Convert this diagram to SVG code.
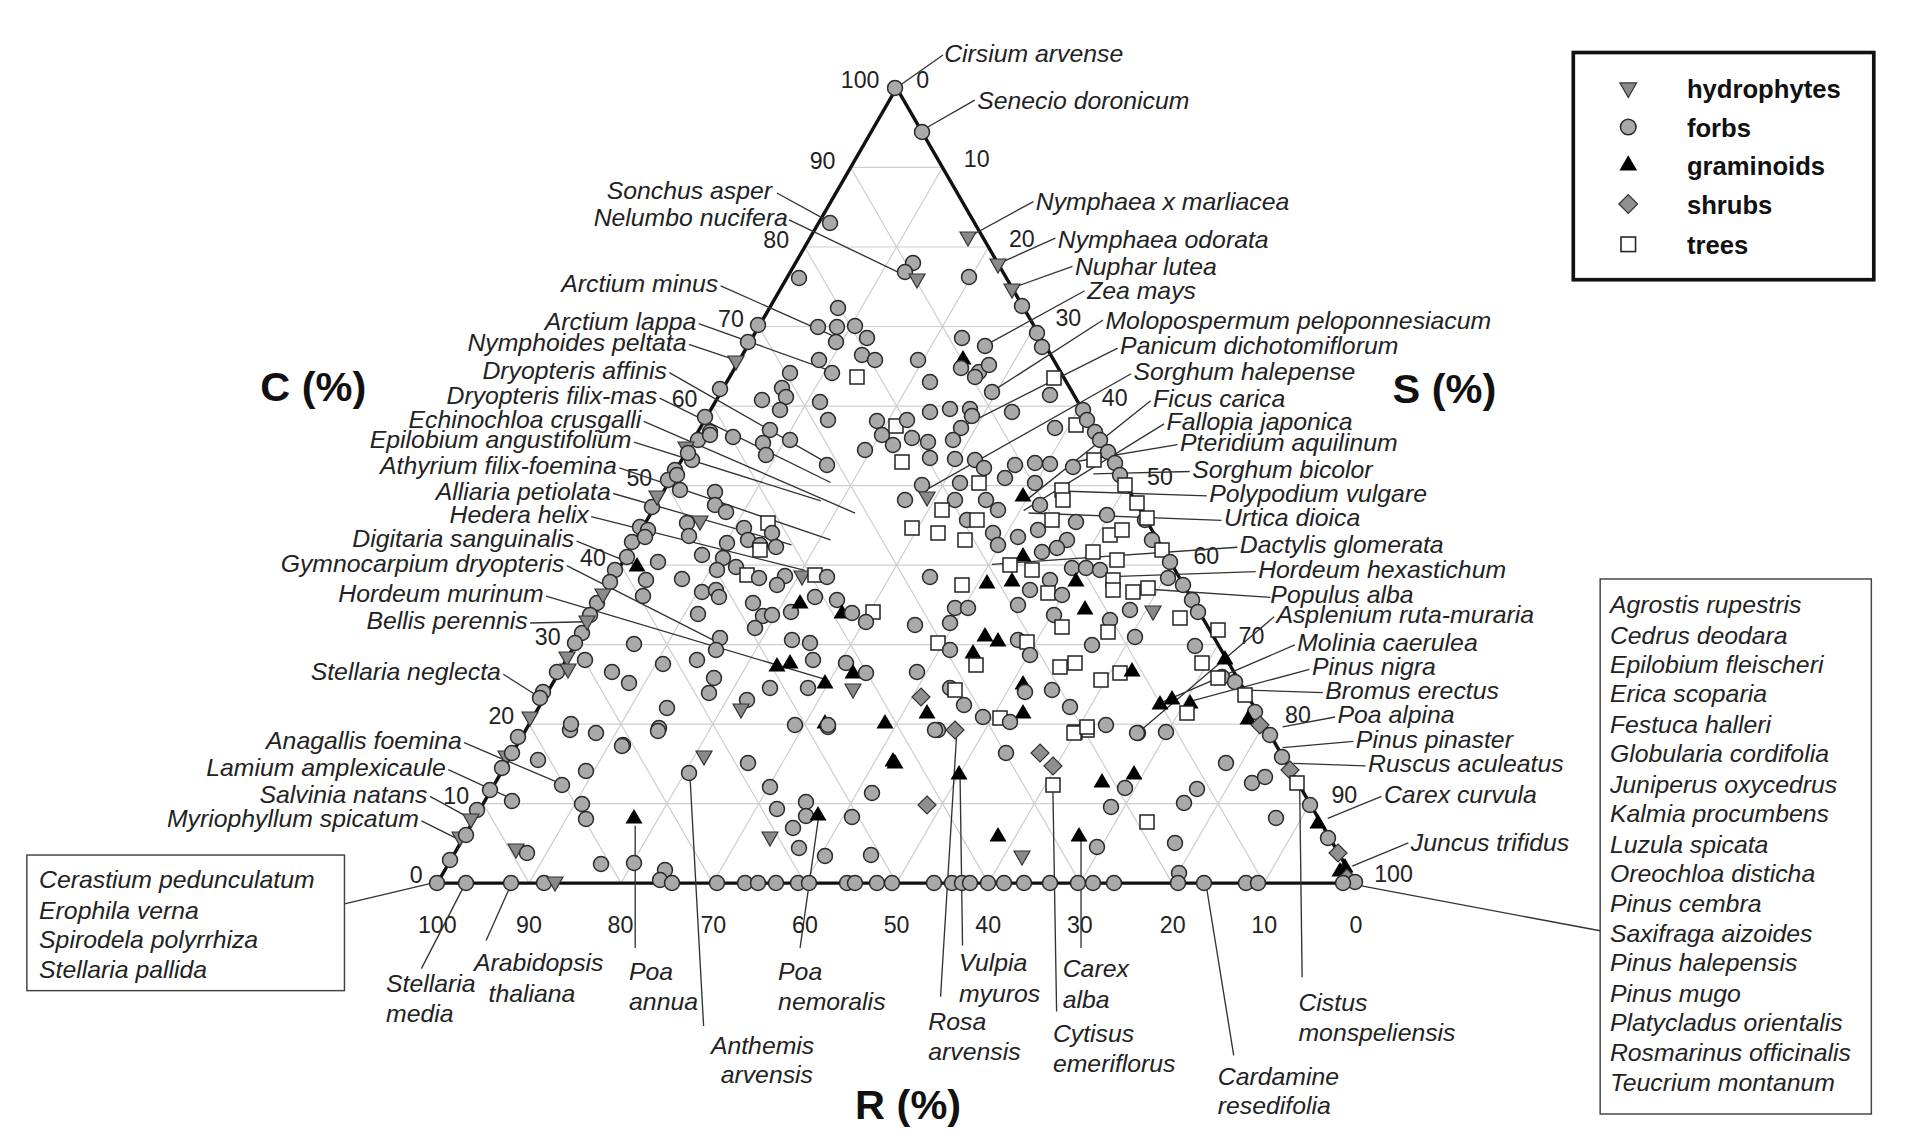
<svg xmlns="http://www.w3.org/2000/svg" xmlns:xlink="http://www.w3.org/1999/xlink" width="1910" height="1146" viewBox="0 0 1910 1146">
<style>
.lb{font-family:"Liberation Sans",Arial,sans-serif;font-style:italic;font-size:20.3px;fill:#222}
.nm{font-family:"Liberation Sans",Arial,sans-serif;font-size:19px;fill:#222}
.ax{font-family:"Liberation Sans",Arial,sans-serif;font-weight:bold;font-size:34px;fill:#111}
.lg{font-family:"Liberation Sans",Arial,sans-serif;font-weight:bold;font-size:21px;fill:#111}
.gr{stroke:#cfcfcf;stroke-width:1;fill:none}
.ld{stroke:#333;stroke-width:1.1;fill:none}
</style>
<defs>
<circle id="c" r="7.5" fill="#a9a9a9" stroke="#2a2a2a" stroke-width="1.5"/>
<path id="td" d="M-8,-6L8,-6L0,8Z" fill="#8a8a8a" stroke="#333" stroke-width="1.2"/>
<path id="tu" d="M0,-8L8.5,6.5L-8.5,6.5Z" fill="#000"/>
<path id="d" d="M0,-9L9,0L0,9L-9,0Z" fill="#8f8f8f" stroke="#333" stroke-width="1.2"/>
<rect id="s" x="-7" y="-7" width="14" height="14" fill="#fff" stroke="#222" stroke-width="1.5"/>
</defs>
<rect width="1910" height="1146" fill="#fff"/>
<g transform="scale(1.2215)">
<g id="grid">
<path class="gr" d="M395.6,657.9H1072.4M433.2,592.8H1034.8M470.8,527.7H997.2M508.4,462.6H959.6M546,397.5H922M583.6,332.4H884.4M621.2,267.3H846.8M658.8,202.2H809.2M696.4,137.1H771.6
M433.2,723L771.6,137.1M508.4,723L809.2,202.2M583.6,723L846.8,267.3M658.8,723L884.4,332.4M734,723L922,397.5M809.2,723L959.6,462.6M884.4,723L997.2,527.7M959.6,723L1034.8,592.8M1034.8,723L1072.4,657.9
M433.2,723L395.6,657.9M508.4,723L433.2,592.8M583.6,723L470.8,527.7M658.8,723L508.4,462.6M734,723L546,397.5M809.2,723L583.6,332.4M884.4,723L621.2,267.3M959.6,723L658.8,202.2M1034.8,723L696.4,137.1"/>
</g>
<g id="axes">
<path d="M358,723L734,72L1110,723Z" fill="none" stroke="#111" stroke-width="2.8"/>
<g class="nm" text-anchor="end">
<text x="346" y="723">0</text><text x="384" y="658">10</text><text x="421" y="593">20</text><text x="459" y="528">30</text><text x="496" y="463">40</text><text x="534" y="398">50</text><text x="571" y="333">60</text><text x="609" y="268">70</text><text x="646" y="203">80</text><text x="684" y="138">90</text><text x="720" y="72">100</text>
</g>
<g class="nm">
<text x="750" y="72">0</text><text x="789" y="137">10</text><text x="826" y="202">20</text><text x="864" y="267">30</text><text x="902" y="332">40</text><text x="939" y="397">50</text><text x="977" y="462">60</text><text x="1014" y="527">70</text><text x="1052" y="592">80</text><text x="1090" y="657">90</text><text x="1125" y="722">100</text>
</g>
<g class="nm" text-anchor="middle">
<text x="358" y="764">100</text><text x="433" y="764">90</text><text x="508" y="764">80</text><text x="584" y="764">70</text><text x="659" y="764">60</text><text x="734" y="764">50</text><text x="809" y="764">40</text><text x="884" y="764">30</text><text x="960" y="764">20</text><text x="1035" y="764">10</text><text x="1110" y="764">0</text>
</g>
<text class="ax" x="213" y="328">C (%)</text>
<text class="ax" x="1140" y="330">S (%)</text>
<text class="ax" x="700" y="916">R (%)</text>
</g>
<g id="legend">
<rect x="1288" y="43" width="246" height="186" fill="#fff" stroke="#111" stroke-width="3"/>
<g transform="translate(1333,73) scale(0.85)"><use xlink:href="#td"/></g>
<g transform="translate(1333,104) scale(0.85)"><use xlink:href="#c"/></g>
<g transform="translate(1333,134) scale(0.85)"><use xlink:href="#tu"/></g>
<g transform="translate(1333,167) scale(0.85)"><use xlink:href="#d"/></g>
<g transform="translate(1333,200) scale(0.85)"><use xlink:href="#s"/></g>
<text class="lg" x="1381" y="80">hydrophytes</text>
<text class="lg" x="1381" y="112">forbs</text>
<text class="lg" x="1381" y="143">graminoids</text>
<text class="lg" x="1381" y="175">shrubs</text>
<text class="lg" x="1381" y="208">trees</text>
</g>
<g id="connectors">
<path class="ld" d="M738,69L772,45M756,106L798,82M793,194L846,165M817,216L864,195M828,236L878,218M808,282L888,238M813,320L903,262M788,349L915,285M760,400L926,306M842,408L942,328M838,418L953,347M880,378L964,364M895,388L974,386M868,402L988,406M842,420L1000,426M812,462L1013,448M910,472L1028,468M935,482L1040,489M935,597L1043,505M951,575L1060,528M975,574L1072,548M1021,565L1083,567M1050,595L1093,587M1050,612L1108,607M1059,625L1118,627M1087,670L1131,652M1107,709L1153,690
M636,158L678,181M646,180L742,226M590,234L682,275M572,265L681,304M564,282L603,295M548,305L677,379M540,326L680,395M527,345L700,420M519,362L672,410M507,383L680,442M502,404L648,446M484,423L659,467M472,443L519,462M464,463L584,524M447,488L675,556M434,510L480,509M412,552L442,571M380,608L460,642M367,630L419,654M352,652L385,670M345,672L377,688
M282,740L358,722M1108,724L1310,762
M380,725L345,793M418,725L398,770M520,676L520,776M565,638L576,840M670,670L655,776M783,604L770,816M786,638L788,774M885,686L885,776M862,648L865,828M988,728L1010,864M1064,644L1066,800"/>
</g>
<g id="labels" class="lb">
<text x="773" y="51">Cirsium arvense</text>
<text x="800" y="89">Senecio doronicum</text>
<text x="848" y="172">Nymphaea x marliacea</text>
<text x="866" y="203">Nymphaea odorata</text>
<text x="880" y="225">Nuphar lutea</text>
<text x="890" y="245">Zea mays</text>
<text x="905" y="269">Molopospermum peloponnesiacum</text>
<text x="917" y="290">Panicum dichotomiflorum</text>
<text x="928" y="311">Sorghum halepense</text>
<text x="944" y="333">Ficus carica</text>
<text x="955" y="352">Fallopia japonica</text>
<text x="966" y="369">Pteridium aquilinum</text>
<text x="976" y="391">Sorghum bicolor</text>
<text x="990" y="411">Polypodium vulgare</text>
<text x="1002" y="431">Urtica dioica</text>
<text x="1015" y="453">Dactylis glomerata</text>
<text x="1030" y="473">Hordeum hexastichum</text>
<text x="1040" y="494">Populus alba</text>
<text x="1045" y="510">Asplenium ruta-muraria</text>
<text x="1062" y="533">Molinia caerulea</text>
<text x="1074" y="553">Pinus nigra</text>
<text x="1085" y="572">Bromus erectus</text>
<text x="1095" y="592">Poa alpina</text>
<text x="1110" y="612">Pinus pinaster</text>
<text x="1120" y="632">Ruscus aculeatus</text>
<text x="1133" y="657">Carex curvula</text>
<text x="1155" y="697">Juncus trifidus</text>
<g text-anchor="end">
<text x="632" y="163">Sonchus asper</text>
<text x="645" y="185">Nelumbo nucifera</text>
<text x="588" y="239">Arctium minus</text>
<text x="570" y="270">Arctium lappa</text>
<text x="562" y="287">Nymphoides peltata</text>
<text x="546" y="310">Dryopteris affinis</text>
<text x="538" y="331">Dryopteris filix-mas</text>
<text x="525" y="350">Echinochloa crusgalli</text>
<text x="517" y="367">Epilobium angustifolium</text>
<text x="505" y="388">Athyrium filix-foemina</text>
<text x="500" y="409">Alliaria petiolata</text>
<text x="482" y="428">Hedera helix</text>
<text x="470" y="448">Digitaria sanguinalis</text>
<text x="462" y="468">Gymnocarpium dryopteris</text>
<text x="445" y="493">Hordeum murinum</text>
<text x="432" y="515">Bellis perennis</text>
<text x="410" y="557">Stellaria neglecta</text>
<text x="378" y="613">Anagallis foemina</text>
<text x="365" y="635">Lamium amplexicaule</text>
<text x="350" y="657">Salvinia natans</text>
<text x="343" y="677">Myriophyllum spicatum</text>
</g>
<text x="316" y="812">Stellaria</text><text x="316" y="837">media</text>
<text x="388" y="795">Arabidopsis</text><text x="400" y="820">thaliana</text>
<text x="515" y="802">Poa</text><text x="515" y="827">annua</text>
<text x="582" y="863">Anthemis</text><text x="590" y="887">arvensis</text>
<text x="637" y="802">Poa</text><text x="637" y="827">nemoralis</text>
<text x="760" y="843">Rosa</text><text x="760" y="868">arvensis</text>
<text x="785" y="795">Vulpia</text><text x="785" y="820">myuros</text>
<text x="870" y="800">Carex</text><text x="870" y="825">alba</text>
<text x="862" y="853">Cytisus</text><text x="862" y="878">emeriflorus</text>
<text x="997" y="888">Cardamine</text><text x="997" y="912">resedifolia</text>
<text x="1063" y="828">Cistus</text><text x="1063" y="852">monspeliensis</text>
</g>
<g id="box-left">
<rect x="22" y="700" width="260" height="111" fill="#fff" stroke="#444" stroke-width="1.2"/>
<g class="lb"><text x="32" y="727">Cerastium pedunculatum</text><text x="32" y="752">Erophila verna</text><text x="32" y="776">Spirodela polyrrhiza</text><text x="32" y="801">Stellaria pallida</text></g>
</g>
<g id="box-right">
<rect x="1310" y="474" width="222" height="438" fill="#fff" stroke="#444" stroke-width="1.2"/>
<g class="lb">
<text x="1318" y="502">Agrostis rupestris</text><text x="1318" y="527">Cedrus deodara</text><text x="1318" y="551">Epilobium fleischeri</text><text x="1318" y="575">Erica scoparia</text><text x="1318" y="600">Festuca halleri</text><text x="1318" y="624">Globularia cordifolia</text><text x="1318" y="649">Juniperus oxycedrus</text><text x="1318" y="673">Kalmia procumbens</text><text x="1318" y="698">Luzula spicata</text><text x="1318" y="722">Oreochloa disticha</text><text x="1318" y="747">Pinus cembra</text><text x="1318" y="771">Saxifraga aizoides</text><text x="1318" y="795">Pinus halepensis</text><text x="1318" y="820">Pinus mugo</text><text x="1318" y="844">Platycladus orientalis</text><text x="1318" y="869">Rosmarinus officinalis</text><text x="1318" y="893">Teucrium montanum</text>
</g>
</g>
</g>
<g id="points">
<use xlink:href="#c" x="895" y="88"/><use xlink:href="#c" x="922" y="132"/>
<use xlink:href="#c" x="830" y="223"/><use xlink:href="#c" x="913" y="263"/><use xlink:href="#c" x="905" y="272"/><use xlink:href="#td" x="917" y="280"/><use xlink:href="#td" x="968" y="238"/><use xlink:href="#c" x="969" y="277"/><use xlink:href="#td" x="998" y="265"/><use xlink:href="#td" x="1012" y="290"/><use xlink:href="#c" x="1022" y="306"/><use xlink:href="#c" x="799" y="278"/>
<use xlink:href="#c" x="838" y="308"/><use xlink:href="#c" x="818" y="327"/><use xlink:href="#c" x="837" y="327"/><use xlink:href="#c" x="836" y="342"/><use xlink:href="#c" x="855" y="326"/><use xlink:href="#c" x="867" y="338"/><use xlink:href="#c" x="862" y="355"/><use xlink:href="#c" x="875" y="360"/><use xlink:href="#c" x="819" y="360"/><use xlink:href="#c" x="832" y="373"/><use xlink:href="#s" x="857" y="377"/><use xlink:href="#c" x="918" y="360"/><use xlink:href="#c" x="930" y="382"/><use xlink:href="#c" x="962" y="338"/><use xlink:href="#c" x="985" y="346"/><use xlink:href="#tu" x="963" y="358"/><use xlink:href="#c" x="961" y="368"/><use xlink:href="#c" x="979" y="372"/><use xlink:href="#c" x="989" y="365"/><use xlink:href="#c" x="975" y="377"/><use xlink:href="#c" x="992" y="392"/>
<use xlink:href="#c" x="758" y="325"/><use xlink:href="#c" x="748" y="342"/><use xlink:href="#td" x="736" y="362"/><use xlink:href="#c" x="720" y="389"/><use xlink:href="#c" x="705" y="417"/><use xlink:href="#c" x="698" y="440"/><use xlink:href="#td" x="686" y="448"/><use xlink:href="#c" x="692" y="460"/><use xlink:href="#c" x="675" y="470"/><use xlink:href="#c" x="688" y="453"/><use xlink:href="#c" x="710" y="432"/>
<use xlink:href="#c" x="1037" y="333"/><use xlink:href="#c" x="1042" y="347"/><use xlink:href="#s" x="1054" y="378"/><use xlink:href="#c" x="1050" y="395"/>
<use xlink:href="#c" x="790" y="373"/><use xlink:href="#c" x="782" y="388"/><use xlink:href="#c" x="786" y="397"/><use xlink:href="#c" x="780" y="410"/><use xlink:href="#c" x="762" y="400"/><use xlink:href="#c" x="820" y="402"/><use xlink:href="#c" x="828" y="420"/><use xlink:href="#c" x="770" y="430"/><use xlink:href="#c" x="763" y="443"/><use xlink:href="#c" x="710" y="435"/><use xlink:href="#c" x="733" y="437"/><use xlink:href="#c" x="790" y="440"/><use xlink:href="#c" x="766" y="455"/><use xlink:href="#c" x="827" y="465"/>
<use xlink:href="#c" x="877" y="421"/><use xlink:href="#s" x="896" y="426"/><use xlink:href="#c" x="907" y="420"/><use xlink:href="#c" x="882" y="435"/><use xlink:href="#c" x="893" y="445"/><use xlink:href="#c" x="912" y="438"/><use xlink:href="#c" x="928" y="442"/><use xlink:href="#c" x="865" y="450"/><use xlink:href="#s" x="902" y="462"/><use xlink:href="#c" x="930" y="458"/>
<use xlink:href="#c" x="930" y="412"/><use xlink:href="#c" x="950" y="409"/><use xlink:href="#c" x="970" y="409"/><use xlink:href="#c" x="972" y="416"/><use xlink:href="#c" x="961" y="428"/><use xlink:href="#c" x="953" y="440"/><use xlink:href="#c" x="955" y="459"/><use xlink:href="#c" x="975" y="460"/><use xlink:href="#c" x="984" y="468"/>
<use xlink:href="#c" x="1012" y="412"/><use xlink:href="#c" x="1055" y="428"/><use xlink:href="#s" x="1076" y="425"/><use xlink:href="#c" x="1083" y="410"/><use xlink:href="#c" x="1087" y="420"/><use xlink:href="#c" x="1095" y="432"/><use xlink:href="#c" x="1100" y="440"/><use xlink:href="#c" x="1108" y="452"/><use xlink:href="#c" x="1115" y="463"/><use xlink:href="#c" x="1120" y="475"/><use xlink:href="#s" x="1094" y="460"/><use xlink:href="#c" x="1073" y="467"/><use xlink:href="#c" x="1050" y="464"/><use xlink:href="#c" x="1035" y="463"/><use xlink:href="#c" x="1015" y="465"/>
<use xlink:href="#c" x="668" y="480"/><use xlink:href="#c" x="677" y="475"/><use xlink:href="#c" x="652" y="507"/><use xlink:href="#c" x="640" y="527"/><use xlink:href="#c" x="632" y="542"/><use xlink:href="#c" x="627" y="557"/><use xlink:href="#c" x="615" y="570"/><use xlink:href="#c" x="610" y="582"/><use xlink:href="#c" x="597" y="603"/><use xlink:href="#c" x="590" y="615"/><use xlink:href="#c" x="582" y="633"/><use xlink:href="#c" x="575" y="643"/><use xlink:href="#c" x="557" y="672"/><use xlink:href="#c" x="543" y="692"/><use xlink:href="#c" x="540" y="698"/><use xlink:href="#c" x="518" y="737"/><use xlink:href="#td" x="657" y="497"/><use xlink:href="#td" x="603" y="595"/><use xlink:href="#td" x="587" y="622"/><use xlink:href="#td" x="567" y="658"/><use xlink:href="#td" x="568" y="670"/><use xlink:href="#td" x="530" y="718"/><use xlink:href="#c" x="648" y="530"/><use xlink:href="#c" x="658" y="562"/><use xlink:href="#c" x="646" y="580"/><use xlink:href="#c" x="643" y="596"/><use xlink:href="#c" x="645" y="537"/><use xlink:href="#tu" x="637" y="565"/>
<use xlink:href="#c" x="680" y="490"/><use xlink:href="#c" x="715" y="492"/><use xlink:href="#c" x="715" y="505"/><use xlink:href="#c" x="726" y="512"/><use xlink:href="#c" x="687" y="523"/><use xlink:href="#td" x="700" y="522"/><use xlink:href="#c" x="689" y="536"/><use xlink:href="#c" x="744" y="528"/><use xlink:href="#s" x="768" y="523"/><use xlink:href="#c" x="772" y="533"/><use xlink:href="#c" x="748" y="540"/><use xlink:href="#c" x="727" y="543"/><use xlink:href="#c" x="760" y="545"/><use xlink:href="#s" x="760" y="550"/><use xlink:href="#c" x="776" y="547"/><use xlink:href="#c" x="702" y="555"/><use xlink:href="#c" x="723" y="558"/><use xlink:href="#c" x="736" y="567"/><use xlink:href="#c" x="717" y="570"/><use xlink:href="#s" x="747" y="575"/><use xlink:href="#c" x="759" y="578"/><use xlink:href="#c" x="785" y="576"/><use xlink:href="#td" x="802" y="577"/><use xlink:href="#s" x="815" y="575"/><use xlink:href="#c" x="827" y="577"/><use xlink:href="#c" x="777" y="585"/><use xlink:href="#c" x="682" y="579"/><use xlink:href="#c" x="702" y="592"/><use xlink:href="#c" x="716" y="590"/><use xlink:href="#c" x="719" y="597"/><use xlink:href="#c" x="698" y="614"/><use xlink:href="#c" x="753" y="603"/><use xlink:href="#c" x="763" y="616"/><use xlink:href="#c" x="772" y="615"/><use xlink:href="#c" x="791" y="612"/><use xlink:href="#tu" x="800" y="602"/><use xlink:href="#c" x="815" y="597"/><use xlink:href="#c" x="837" y="600"/><use xlink:href="#tu" x="842" y="612"/><use xlink:href="#c" x="852" y="613"/><use xlink:href="#s" x="873" y="612"/><use xlink:href="#c" x="866" y="622"/><use xlink:href="#c" x="755" y="628"/><use xlink:href="#c" x="792" y="640"/><use xlink:href="#c" x="810" y="643"/><use xlink:href="#c" x="634" y="644"/><use xlink:href="#c" x="720" y="638"/><use xlink:href="#c" x="716" y="650"/><use xlink:href="#c" x="697" y="660"/><use xlink:href="#c" x="663" y="664"/><use xlink:href="#c" x="612" y="672"/><use xlink:href="#c" x="629" y="683"/><use xlink:href="#tu" x="777" y="665"/><use xlink:href="#tu" x="790" y="662"/><use xlink:href="#c" x="813" y="660"/><use xlink:href="#c" x="846" y="663"/><use xlink:href="#tu" x="853" y="672"/><use xlink:href="#c" x="866" y="673"/><use xlink:href="#tu" x="825" y="682"/><use xlink:href="#c" x="808" y="688"/><use xlink:href="#c" x="770" y="688"/><use xlink:href="#td" x="853" y="690"/><use xlink:href="#c" x="714" y="678"/><use xlink:href="#c" x="709" y="693"/><use xlink:href="#c" x="747" y="700"/><use xlink:href="#td" x="741" y="710"/><use xlink:href="#c" x="667" y="708"/><use xlink:href="#c" x="659" y="728"/><use xlink:href="#c" x="570" y="730"/><use xlink:href="#c" x="596" y="733"/><use xlink:href="#c" x="623" y="745"/><use xlink:href="#c" x="795" y="725"/><use xlink:href="#tu" x="825" y="722"/><use xlink:href="#c" x="828" y="727"/><use xlink:href="#tu" x="885" y="722"/><use xlink:href="#c" x="585" y="660"/>
<use xlink:href="#s" x="979" y="483"/><use xlink:href="#c" x="960" y="483"/><use xlink:href="#c" x="922" y="485"/><use xlink:href="#td" x="927" y="498"/><use xlink:href="#c" x="905" y="500"/><use xlink:href="#c" x="1005" y="478"/><use xlink:href="#c" x="1035" y="483"/><use xlink:href="#s" x="1062" y="490"/><use xlink:href="#s" x="1063" y="500"/><use xlink:href="#tu" x="1023" y="495"/><use xlink:href="#c" x="1040" y="505"/><use xlink:href="#c" x="986" y="500"/><use xlink:href="#c" x="998" y="510"/><use xlink:href="#c" x="955" y="500"/><use xlink:href="#s" x="942" y="510"/><use xlink:href="#c" x="967" y="520"/><use xlink:href="#s" x="977" y="520"/><use xlink:href="#s" x="912" y="528"/><use xlink:href="#s" x="938" y="533"/><use xlink:href="#s" x="965" y="540"/><use xlink:href="#c" x="993" y="533"/><use xlink:href="#c" x="998" y="545"/><use xlink:href="#c" x="1018" y="537"/><use xlink:href="#c" x="1038" y="530"/><use xlink:href="#s" x="1052" y="520"/><use xlink:href="#c" x="1076" y="522"/><use xlink:href="#c" x="1067" y="540"/><use xlink:href="#c" x="1057" y="548"/><use xlink:href="#c" x="1042" y="552"/><use xlink:href="#tu" x="1023" y="555"/><use xlink:href="#s" x="1010" y="565"/><use xlink:href="#s" x="1032" y="570"/><use xlink:href="#c" x="1072" y="568"/><use xlink:href="#c" x="1086" y="568"/><use xlink:href="#c" x="1100" y="570"/><use xlink:href="#s" x="1110" y="535"/><use xlink:href="#s" x="1122" y="530"/><use xlink:href="#c" x="1107" y="515"/><use xlink:href="#s" x="1093" y="552"/><use xlink:href="#s" x="1117" y="560"/><use xlink:href="#s" x="1113" y="580"/><use xlink:href="#s" x="1113" y="590"/><use xlink:href="#tu" x="1076" y="580"/><use xlink:href="#c" x="1050" y="580"/><use xlink:href="#c" x="1030" y="590"/><use xlink:href="#c" x="1018" y="605"/><use xlink:href="#s" x="1048" y="593"/><use xlink:href="#c" x="1062" y="595"/><use xlink:href="#s" x="1133" y="592"/><use xlink:href="#s" x="1148" y="588"/><use xlink:href="#tu" x="1012" y="580"/><use xlink:href="#tu" x="987" y="582"/><use xlink:href="#s" x="962" y="585"/><use xlink:href="#c" x="930" y="577"/><use xlink:href="#c" x="955" y="608"/><use xlink:href="#c" x="968" y="608"/><use xlink:href="#c" x="950" y="623"/><use xlink:href="#c" x="915" y="625"/><use xlink:href="#tu" x="1085" y="608"/><use xlink:href="#td" x="1153" y="612"/><use xlink:href="#c" x="1130" y="610"/><use xlink:href="#c" x="1054" y="615"/><use xlink:href="#s" x="1062" y="627"/><use xlink:href="#c" x="1110" y="620"/><use xlink:href="#s" x="1108" y="632"/><use xlink:href="#s" x="1180" y="618"/><use xlink:href="#c" x="1135" y="637"/><use xlink:href="#c" x="1092" y="645"/><use xlink:href="#s" x="938" y="643"/><use xlink:href="#c" x="950" y="650"/><use xlink:href="#tu" x="985" y="635"/><use xlink:href="#tu" x="998" y="640"/><use xlink:href="#c" x="1018" y="640"/><use xlink:href="#s" x="1027" y="642"/><use xlink:href="#c" x="1030" y="655"/><use xlink:href="#tu" x="973" y="652"/><use xlink:href="#s" x="976" y="665"/><use xlink:href="#c" x="917" y="672"/><use xlink:href="#s" x="1060" y="667"/><use xlink:href="#s" x="1075" y="663"/><use xlink:href="#s" x="1101" y="680"/><use xlink:href="#s" x="1120" y="673"/><use xlink:href="#tu" x="1132" y="670"/><use xlink:href="#tu" x="1023" y="683"/><use xlink:href="#c" x="1025" y="692"/><use xlink:href="#c" x="1052" y="690"/><use xlink:href="#d" x="921" y="697"/><use xlink:href="#c" x="950" y="688"/><use xlink:href="#s" x="955" y="690"/><use xlink:href="#c" x="964" y="705"/><use xlink:href="#tu" x="927" y="712"/><use xlink:href="#tu" x="1023" y="712"/><use xlink:href="#c" x="1070" y="707"/><use xlink:href="#c" x="983" y="717"/><use xlink:href="#s" x="1000" y="718"/><use xlink:href="#c" x="1010" y="722"/><use xlink:href="#s" x="1087" y="730"/><use xlink:href="#s" x="1075" y="732"/><use xlink:href="#c" x="1106" y="725"/><use xlink:href="#c" x="938" y="730"/><use xlink:href="#d" x="955" y="730"/><use xlink:href="#tu" x="1160" y="703"/><use xlink:href="#tu" x="1172" y="698"/><use xlink:href="#tu" x="1190" y="702"/><use xlink:href="#s" x="1187" y="713"/><use xlink:href="#c" x="1138" y="733"/><use xlink:href="#c" x="1166" y="732"/>
<use xlink:href="#s" x="1125" y="485"/><use xlink:href="#s" x="1137" y="503"/><use xlink:href="#c" x="1145" y="520"/><use xlink:href="#s" x="1147" y="518"/><use xlink:href="#c" x="1152" y="540"/><use xlink:href="#s" x="1162" y="550"/><use xlink:href="#c" x="1170" y="562"/><use xlink:href="#c" x="1168" y="578"/><use xlink:href="#c" x="1183" y="585"/><use xlink:href="#c" x="1192" y="600"/><use xlink:href="#c" x="1198" y="612"/><use xlink:href="#s" x="1218" y="630"/><use xlink:href="#c" x="1195" y="646"/><use xlink:href="#s" x="1202" y="663"/><use xlink:href="#c" x="1222" y="677"/><use xlink:href="#tu" x="1225" y="658"/><use xlink:href="#s" x="1218" y="678"/><use xlink:href="#c" x="1235" y="682"/><use xlink:href="#s" x="1245" y="695"/><use xlink:href="#c" x="1255" y="712"/><use xlink:href="#tu" x="1248" y="718"/><use xlink:href="#d" x="1260" y="725"/><use xlink:href="#c" x="1270" y="735"/><use xlink:href="#c" x="1282" y="757"/><use xlink:href="#d" x="1290" y="770"/><use xlink:href="#s" x="1297" y="783"/><use xlink:href="#c" x="1310" y="805"/><use xlink:href="#tu" x="1318" y="822"/><use xlink:href="#c" x="1328" y="838"/><use xlink:href="#d" x="1338" y="853"/><use xlink:href="#tu" x="1345" y="866"/><use xlink:href="#tu" x="1340" y="870"/><use xlink:href="#d" x="1347" y="878"/><use xlink:href="#c" x="1355" y="882"/>
<use xlink:href="#c" x="571" y="724"/><use xlink:href="#c" x="658" y="731"/><use xlink:href="#c" x="622" y="746"/><use xlink:href="#c" x="538" y="760"/><use xlink:href="#td" x="506" y="757"/><use xlink:href="#c" x="502" y="768"/><use xlink:href="#c" x="512" y="753"/><use xlink:href="#c" x="586" y="771"/><use xlink:href="#c" x="562" y="785"/><use xlink:href="#c" x="512" y="801"/><use xlink:href="#c" x="582" y="804"/><use xlink:href="#c" x="586" y="819"/><use xlink:href="#c" x="477" y="810"/><use xlink:href="#td" x="471" y="820"/><use xlink:href="#td" x="460" y="838"/><use xlink:href="#c" x="466" y="835"/><use xlink:href="#c" x="450" y="860"/><use xlink:href="#c" x="490" y="790"/><use xlink:href="#td" x="516" y="850"/><use xlink:href="#c" x="527" y="853"/><use xlink:href="#tu" x="634" y="817"/><use xlink:href="#c" x="601" y="864"/><use xlink:href="#c" x="634" y="863"/><use xlink:href="#c" x="665" y="870"/><use xlink:href="#td" x="704" y="757"/><use xlink:href="#c" x="689" y="773"/><use xlink:href="#c" x="748" y="763"/><use xlink:href="#c" x="770" y="787"/><use xlink:href="#c" x="777" y="809"/><use xlink:href="#c" x="806" y="802"/><use xlink:href="#c" x="806" y="816"/><use xlink:href="#tu" x="818" y="814"/><use xlink:href="#c" x="793" y="828"/><use xlink:href="#td" x="770" y="838"/><use xlink:href="#c" x="799" y="848"/><use xlink:href="#c" x="825" y="856"/><use xlink:href="#c" x="871" y="855"/><use xlink:href="#c" x="852" y="817"/><use xlink:href="#c" x="872" y="793"/><use xlink:href="#tu" x="893" y="760"/><use xlink:href="#c" x="828" y="725"/>
<use xlink:href="#c" x="935" y="730"/><use xlink:href="#c" x="1006" y="753"/><use xlink:href="#d" x="1040" y="753"/><use xlink:href="#d" x="1053" y="766"/><use xlink:href="#s" x="1053" y="785"/><use xlink:href="#s" x="1074" y="733"/><use xlink:href="#s" x="1087" y="727"/><use xlink:href="#c" x="1137" y="733"/><use xlink:href="#tu" x="895" y="762"/><use xlink:href="#tu" x="959" y="773"/><use xlink:href="#d" x="927" y="805"/><use xlink:href="#tu" x="998" y="835"/><use xlink:href="#td" x="1022" y="857"/><use xlink:href="#tu" x="1079" y="835"/><use xlink:href="#c" x="1097" y="847"/><use xlink:href="#tu" x="1102" y="781"/><use xlink:href="#tu" x="1134" y="773"/><use xlink:href="#c" x="1125" y="788"/><use xlink:href="#c" x="1111" y="807"/><use xlink:href="#s" x="1147" y="822"/><use xlink:href="#c" x="1175" y="843"/><use xlink:href="#c" x="1184" y="803"/><use xlink:href="#c" x="1197" y="789"/><use xlink:href="#c" x="1226" y="763"/><use xlink:href="#c" x="1252" y="783"/><use xlink:href="#c" x="1265" y="777"/><use xlink:href="#c" x="1276" y="818"/><use xlink:href="#c" x="1179" y="873"/>
<use xlink:href="#c" x="437" y="883"/><use xlink:href="#c" x="466" y="883"/><use xlink:href="#c" x="511" y="883"/><use xlink:href="#c" x="544" y="883"/><use xlink:href="#td" x="555" y="883"/><use xlink:href="#c" x="660" y="880"/><use xlink:href="#c" x="672" y="883"/><use xlink:href="#c" x="717" y="883"/><use xlink:href="#c" x="745" y="883"/><use xlink:href="#c" x="758" y="883"/><use xlink:href="#c" x="776" y="883"/><use xlink:href="#c" x="798" y="883"/><use xlink:href="#c" x="809" y="883"/><use xlink:href="#c" x="847" y="883"/><use xlink:href="#c" x="855" y="883"/><use xlink:href="#c" x="877" y="883"/><use xlink:href="#c" x="892" y="883"/><use xlink:href="#c" x="934" y="883"/><use xlink:href="#c" x="952" y="883"/><use xlink:href="#c" x="962" y="883"/><use xlink:href="#c" x="970" y="883"/><use xlink:href="#c" x="988" y="883"/><use xlink:href="#c" x="1004" y="883"/><use xlink:href="#c" x="1024" y="883"/><use xlink:href="#c" x="1050" y="883"/><use xlink:href="#c" x="1078" y="883"/><use xlink:href="#c" x="1093" y="883"/><use xlink:href="#c" x="1114" y="883"/><use xlink:href="#c" x="1178" y="883"/><use xlink:href="#c" x="1204" y="883"/><use xlink:href="#c" x="1246" y="883"/><use xlink:href="#c" x="1258" y="883"/><use xlink:href="#c" x="1343" y="883"/>
</g>
</svg>
